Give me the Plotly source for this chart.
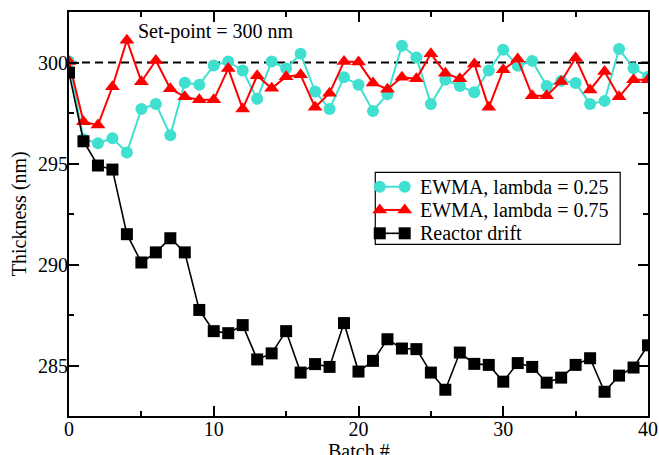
import plotly.graph_objects as go

# Batch index and thickness series (nm)
batch = list(range(41))

ewma_025 = [300.05, 296.2, 296.0, 296.25, 295.55, 297.7, 297.95, 296.4, 299.0, 298.9,
            299.85, 300.05, 299.6, 298.2, 300.05, 299.7, 300.43, 298.56, 297.7, 299.27,
            298.9, 297.6, 298.43, 300.83, 300.25, 297.95, 299.14, 298.84, 298.53, 299.6,
            300.63, 299.84, 300.08, 298.84, 299.09, 298.98, 297.95, 298.1, 300.67, 299.72,
            299.3]

ewma_075 = [300.05, 297.07, 296.9, 298.8, 301.1, 299.05, 300.1, 298.7, 298.3, 298.15,
            298.15, 299.7, 297.7, 299.35, 298.72, 299.3, 299.39, 297.78, 298.48, 300.05,
            300.02, 298.98, 298.68, 299.27, 299.19, 300.43, 299.47, 299.19, 299.93, 297.78,
            299.64, 300.17, 298.35, 298.35, 299.06, 300.22, 298.64, 299.55, 298.3, 299.14,
            299.14]

reactor_drift = [299.5, 296.1, 294.9, 294.7, 291.5, 290.1, 290.6, 291.3, 290.6, 287.75,
                 286.7, 286.6, 287.0, 285.3, 285.6, 286.7, 284.65, 285.07, 284.93, 287.1,
                 284.7, 285.23, 286.3, 285.84, 285.81, 284.65, 283.8, 285.64, 285.08, 285.03,
                 284.2, 285.12, 284.93, 284.15, 284.4, 285.03, 285.36, 283.7, 284.5, 284.9,
                 286.0]

set_point = 300
x_range = [0, 40]
y_range = [282.5, 302.5]

series_names = ["EWMA, lambda = 0.25", "EWMA, lambda = 0.75", "Reactor drift"]
series_colors = ["#40E0D0", "#FF0000", "#000000"]
series_symbols = ["circle", "triangle-up", "square"]
series_sizes = [12, 13, 12]
series_widths = [2, 2, 1.6]

FONT = "Times New Roman"

fig = go.Figure()

# Set-point reference line
fig.add_trace(go.Scatter(
    x=x_range, y=[set_point, set_point], mode="lines",
    line=dict(color="black", width=2, dash="8px,5px"),
    showlegend=False, hoverinfo="skip"))

for values, name, color, symbol, size, width in zip(
        [ewma_025, ewma_075, reactor_drift], series_names, series_colors,
        series_symbols, series_sizes, series_widths):
    fig.add_trace(go.Scatter(
        x=batch, y=values, mode="lines+markers", name=name,
        line=dict(color=color, width=width),
        marker=dict(symbol=symbol, size=size, color=color, line=dict(width=0)),
        showlegend=False))

# Hand-built legend on an overlay axis spanning the plot area (0..1)
legend_rows = [0.5676, 0.510, 0.4522]
sample_x = [0.5367, 0.5798]
for row_y, name, color, symbol, size, width in zip(
        legend_rows, series_names, series_colors, series_symbols, series_sizes,
        series_widths):
    fig.add_trace(go.Scatter(
        x=sample_x, y=[row_y, row_y], mode="lines+markers",
        line=dict(color=color, width=width),
        marker=dict(symbol=symbol, size=size, color=color, line=dict(width=0)),
        xaxis="x2", yaxis="y2", showlegend=False, hoverinfo="skip"))
    fig.add_annotation(
        x=0.6035, y=row_y, xref="x2", yref="y2", text=name, showarrow=False,
        xanchor="left", yanchor="middle", font=dict(family=FONT, size=20, color="black"))

fig.add_shape(type="rect", xref="x2", yref="y2", x0=0.529, x1=0.952, y0=0.425, y1=0.603,
              line=dict(color="black", width=1.2), fillcolor="rgba(0,0,0,0)", layer="below")

fig.add_annotation(
    x=4.6, y=301.52, xref="x", yref="y", text="Set-point = 300 nm", showarrow=False,
    xanchor="left", yanchor="middle", font=dict(family=FONT, size=20, color="black"))

# Axis titles
fig.add_annotation(
    x=0.5, y=-0.0855, xref="paper", yref="paper", text="Batch #", showarrow=False,
    xanchor="center", yanchor="middle", font=dict(family=FONT, size=20, color="black"))
fig.add_annotation(
    x=-0.086, y=0.5, xref="paper", yref="paper", text="Thickness (nm)", showarrow=False,
    textangle=-90, xanchor="center", yanchor="middle",
    font=dict(family=FONT, size=20, color="black"))

axis_common = dict(
    showline=True, linecolor="black", linewidth=2, mirror="allticks",
    ticks="inside", ticklen=10, tickwidth=1.5, tickcolor="black",
    showgrid=False, zeroline=False, automargin=False,
    tickfont=dict(family=FONT, size=20, color="black"),
)

fig.update_layout(
    width=659, height=455,
    margin=dict(l=69, r=11, t=12, b=39),
    paper_bgcolor="white", plot_bgcolor="white",
    font=dict(family=FONT, size=20, color="black"),
    xaxis=dict(range=x_range, dtick=10, tick0=0, ticklabelstandoff=-6,
               minor=dict(dtick=5, ticklen=5, ticks="inside", tickcolor="black", tickwidth=1.5),
               **axis_common),
    yaxis=dict(range=y_range, dtick=5, tick0=0, ticklabelstandoff=-5,
               minor=dict(dtick=2.5, ticklen=5, ticks="inside", tickcolor="black", tickwidth=1.5),
               **axis_common),
    xaxis2=dict(range=[0, 1], overlaying="x", visible=False, fixedrange=True),
    yaxis2=dict(range=[0, 1], overlaying="y", visible=False, fixedrange=True),
    showlegend=False,
)

fig.write_html("out.html")
